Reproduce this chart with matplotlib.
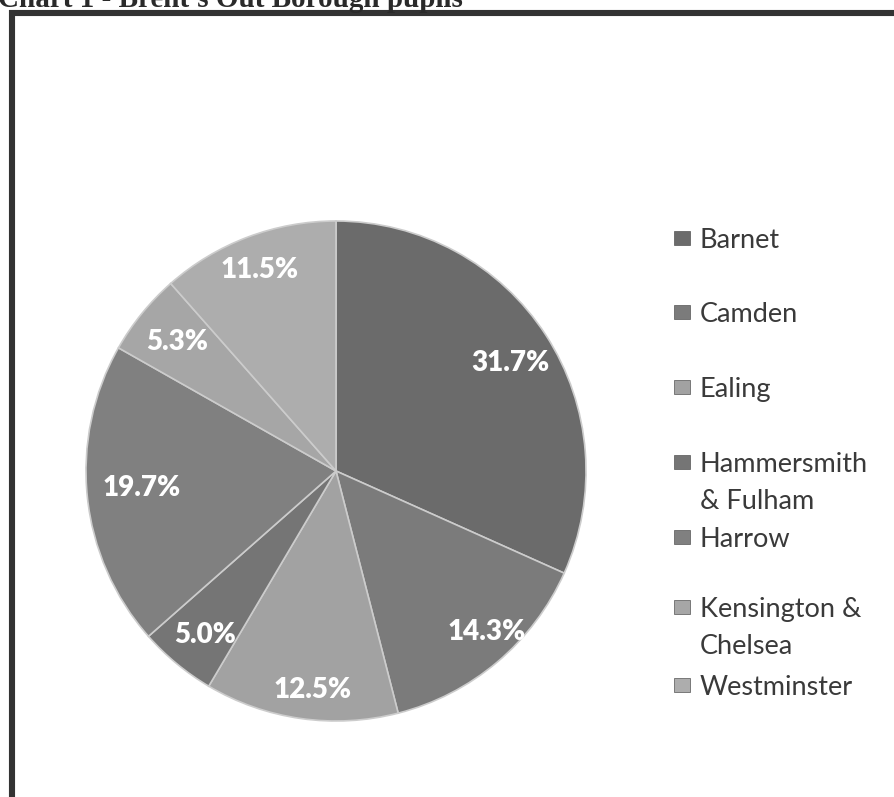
import matplotlib
matplotlib.use("Agg")
import matplotlib.pyplot as plt
from matplotlib.patches import Rectangle
import numpy as np

# data (clockwise from 12 o'clock)
boroughs = ["Barnet", "Camden", "Ealing", "Hammersmith\n& Fulham", "Harrow",
            "Kensington &\nChelsea", "Westminster"]
shares = [31.7, 14.3, 12.5, 5.0, 19.7, 5.3, 11.5]
grays = ["#6b6b6b", "#7b7b7b", "#a2a2a2", "#757575", "#808080", "#a6a6a6", "#adadad"]
title = "Chart 1 - Brent's Out Borough pupils"

W, H = 894, 797
fig = plt.figure(figsize=(W / 100, H / 100), dpi=100)
fig.patch.set_facecolor("white")

def fx(px):
    return px / W

def fy(py):
    return 1 - py / H

# outer frame (runs off the right and bottom edges like the scan)
fig.patches.append(Rectangle((fx(11.5), fy(830)), fx(930), fy(13.5) - fy(830),
                             transform=fig.transFigure, fill=False,
                             edgecolor="#333333", linewidth=4.4, zorder=0))

# title is half cut off at the top of the scan
fig.text(fx(-2), fy(7), title, ha="left", va="baseline", fontsize=21,
         fontweight="bold", family="Liberation Serif", color="#2a2a2a")

# pie axes: centre ~(336, 471), radius ~250 px
ax = fig.add_axes([fx(86), fy(721), fx(500), fy(221) - fy(721)])
wedges, texts, autotexts = ax.pie(
    shares, colors=grays, startangle=90, counterclock=False, radius=1.0,
    autopct="%.1f%%", pctdistance=0.82,
    wedgeprops=dict(edgecolor="#cccccc", linewidth=1.2),
    textprops=dict(color="white", fontsize=20, fontweight="heavy", family="Lato"))
ax.set_xlim(-1, 1)
ax.set_ylim(-1, 1)
ax.set_aspect("equal")

# label distances (excel "best fit" places them unevenly)
label_r = [0.82, 0.88, 0.88, 0.84, 0.78, 0.82, 0.86]
label_shift = [-1, 3, 2, 1, -1, 0, 0]
for w, t, r, s in zip(wedges, autotexts, label_r, label_shift):
    mid = np.deg2rad((w.theta1 + w.theta2) / 2 + s)
    t.set_position((r * np.cos(mid), r * np.sin(mid)))

# legend, drawn as text lines like the excel one
leg_y = [238, 312, 387, 462, 537, 607, 685]
for name, col, y in zip(boroughs, grays, leg_y):
    fig.patches.append(Rectangle((fx(674), fy(y + 7)), fx(16), fy(y - 7) - fy(y + 7),
                                 transform=fig.transFigure, facecolor=col,
                                 edgecolor="#555555", linewidth=0.5))
    fig.text(fx(700), fy(y - 10), name, ha="left", va="top", fontsize=19.5,
             family="Lato", color="#3a3a3a", linespacing=1.58)

fig.savefig("out.png", dpi=100, facecolor="white")
